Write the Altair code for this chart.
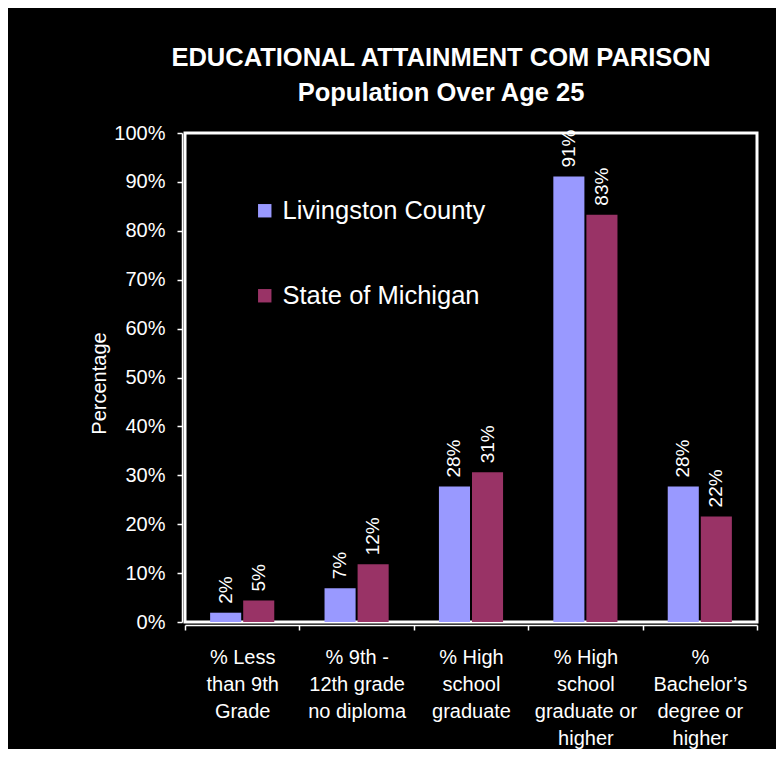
import altair as alt
import pandas as pd

categories = [
    "% Less\nthan 9th\nGrade",
    "% 9th -\n12th grade\nno diploma",
    "% High\nschool\ngraduate",
    "% High\nschool\ngraduate or\nhigher",
    "%\nBachelor\u2019s\ndegree or\nhigher",
]
series_names = ["Livingston County", "State of Michigan"]
livingston = [1.9, 6.9, 27.7, 91.1, 27.7]
michigan = [4.4, 11.8, 30.6, 83.3, 21.6]
livingston_labels = ["2%", "7%", "28%", "91%", "28%"]
michigan_labels = ["5%", "12%", "31%", "83%", "22%"]
colors = ["#9999FF", "#993366"]

rows = []
for i, c in enumerate(categories):
    rows.append({"category": c, "series": series_names[0], "value": livingston[i], "label": livingston_labels[i]})
    rows.append({"category": c, "series": series_names[1], "value": michigan[i], "label": michigan_labels[i]})
df = pd.DataFrame(rows)

FONT = "Liberation Sans"

x_enc = alt.X(
    "category:N",
    sort=categories,
    scale=alt.Scale(paddingInner=0, paddingOuter=0),
    axis=alt.Axis(
        title=None,
        labelExpr="split(datum.label, '\\n')",
        labelAngle=0,
        labelAlign="center",
        labelBaseline="top",
        labelFontSize=20,
        labelLineHeight=27,
        labelFont=FONT,
        labelColor="white",
        labelPadding=17,
        labelLimit=0,
        tickBand="extent",
        tickColor="white",
        tickSize=5,
        tickWidth=1.5,
        domainColor="white",
        domainWidth=1.5,
        offset=3,
        grid=False,
    ),
)
xoff_enc = alt.XOffset(
    "series:N", sort=series_names, scale=alt.Scale(paddingInner=0.06, paddingOuter=0.76)
)
y_enc = alt.Y(
    "value:Q",
    scale=alt.Scale(domain=[0, 100], nice=False),
    axis=alt.Axis(
        title="Percentage",
        titleFont=FONT,
        titleFontSize=20,
        titleFontWeight="normal",
        titleColor="white",
        titlePadding=4,
        titleY=250,
        values=list(range(0, 101, 10)),
        labelExpr="datum.value + '%'",
        labelFont=FONT,
        labelFontSize=20,
        labelColor="white",
        labelPadding=12,
        tickColor="white",
        tickSize=5,
        tickWidth=1.5,
        domainColor="white",
        domainWidth=1.5,
        offset=3,
        grid=False,
    ),
)

bars = alt.Chart(df).mark_bar().encode(
    x=x_enc,
    xOffset=xoff_enc,
    y=y_enc,
    color=alt.Color(
        "series:N",
        sort=series_names,
        scale=alt.Scale(domain=series_names, range=colors),
        legend=alt.Legend(
            title=None,
            orient="none",
            legendX=67,
            legendY=65,
            symbolType="square",
            symbolSize=180,
            symbolStrokeWidth=0,
            labelFont=FONT,
            labelFontSize=25.5,
            labelColor="white",
            labelOffset=5,
            labelLimit=0,
            rowPadding=58,
        ),
    ),
)

labels = alt.Chart(df).mark_text(
    angle=270, align="left", baseline="middle", dx=9, fontSize=19, font=FONT, color="white"
).encode(
    x=alt.X("category:N", sort=categories),
    xOffset=alt.XOffset("series:N", sort=series_names),
    y=alt.Y("value:Q"),
    text="label:N",
)

chart = (
    alt.layer(bars, labels)
    .properties(
        width=572,
        height=489,
        title=alt.Title(
            ["EDUCATIONAL ATTAINMENT COM PARISON", "Population Over Age 25"],
            font=FONT,
            fontSize=25.5,
            fontWeight="bold",
            color="white",
            lineHeight=35,
            anchor="middle",
            dx=-30,
            offset=17,
        ),
        autosize=alt.AutoSizeParams(type="none"),
        padding={"left": 177, "top": 125, "right": 19, "bottom": 127},
        background="black",
    )
    .configure_view(stroke="white", strokeWidth=3)
)

chart.save("out.html", embed_options={"renderer": "svg", "actions": False})
